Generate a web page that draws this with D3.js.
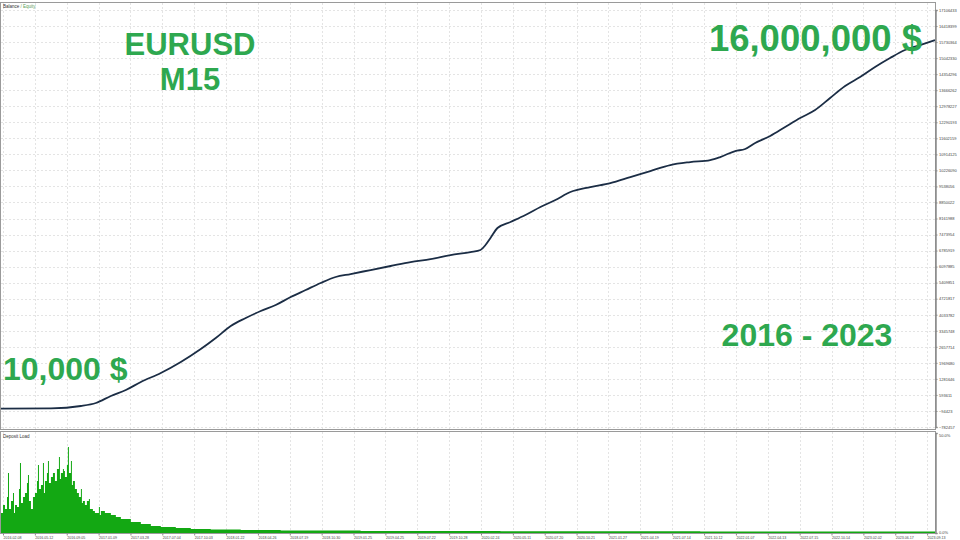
<!DOCTYPE html>
<html>
<head>
<meta charset="utf-8">
<script src="https://cdn.jsdelivr.net/npm/d3@7"></script>
<style>
  body { margin: 0; background: #fff; }
  svg { display: block; font-family: "Liberation Sans", Arial, sans-serif; }
</style>
</head>
<body>
<script>
// x axis is the deal counter of the tester, labelled with dates
var tickDeals = [20, 339, 658, 977, 1296, 1615, 1934, 2253, 2572, 2891, 3210, 3529, 3848, 4167, 4486,
                 4805, 5124, 5443, 5762, 6081, 6400, 6719, 7038, 7357, 7676, 7995, 8314, 8633, 8952, 9271];
var tickDates = ["2016.02.08", "2016.05.12", "2016.09.05", "2017.01.09", "2017.03.28", "2017.07.04",
                 "2017.10.03", "2018.01.22", "2018.04.26", "2018.07.19", "2018.10.30", "2019.01.25",
                 "2019.04.25", "2019.07.22", "2019.10.28", "2020.02.24", "2020.05.11", "2020.07.20",
                 "2020.10.21", "2021.01.27", "2021.04.19", "2021.07.14", "2021.10.12", "2022.01.07",
                 "2022.04.13", "2022.07.15", "2022.10.14", "2023.02.02", "2023.06.17", "2023.09.13"];

// right axis ticks
var balanceTicks = [17106433, 16418399, 15730364, 15042330, 14354296, 13666262, 12978227, 12290193,
                    11602159, 10914125, 10226090, 9538056, 8850022, 8161988, 7473954, 6785919, 6097885,
                    5409851, 4721817, 4033782, 3345748, 2657714, 1969680, 1281646, 593611, -94423, -782457];

// balance curve [deal, balance]
var balance = [
  [0, 10000], [500, 20000], [800, 118000], [950, 247000], [1100, 547000], [1250, 805000],
  [1400, 1148000], [1600, 1534000], [1800, 2006000], [2000, 2563000], [2150, 3035000],
  [2300, 3550000], [2450, 3893000], [2600, 4193000], [2750, 4451000], [2900, 4794000],
  [3050, 5094000], [3200, 5394000], [3350, 5652000], [3500, 5780000], [3700, 5952000],
  [3900, 6124000], [4100, 6295000], [4300, 6424000], [4500, 6595000], [4700, 6724000],
  [4800, 6810000], [4850, 7024000], [4900, 7325000], [4970, 7754000], [5100, 8011000],
  [5250, 8311000], [5400, 8654000], [5550, 8955000], [5700, 9298000], [5900, 9512000],
  [6100, 9684000], [6300, 9941000], [6500, 10199000], [6700, 10456000], [6900, 10585000],
  [7100, 10671000], [7200, 10799000], [7350, 11057000], [7450, 11142000], [7550, 11400000],
  [7700, 11700000], [7850, 12086000], [8000, 12472000], [8150, 12815000], [8300, 13330000],
  [8450, 13845000], [8600, 14231000], [8750, 14660000], [8900, 15046000], [9050, 15389000],
  [9200, 15603000], [9350, 15818000]
];

// deposit load [deal, percent]
var depositLoad = [
  [0, 10], [20, 14], [40, 12], [60, 18], [70, 30], [80, 12], [100, 16], [120, 20], [130, 10],
  [140, 14], [160, 13], [180, 22], [190, 35], [200, 15], [220, 18], [240, 20], [260, 25],
  [270, 29], [280, 16], [300, 12], [320, 18], [340, 20], [360, 26], [370, 34], [380, 22],
  [400, 24], [420, 35], [430, 20], [440, 26], [460, 30], [470, 36], [480, 25], [500, 28],
  [520, 30], [530, 30], [540, 26], [560, 32], [580, 38], [590, 27], [600, 30], [620, 32],
  [630, 31], [640, 28], [660, 34], [670, 43], [680, 30], [700, 36], [710, 24], [720, 26],
  [740, 22], [760, 20], [780, 18], [800, 22], [810, 15], [820, 16], [840, 14], [860, 16],
  [880, 17], [890, 12], [900, 12], [920, 11], [940, 10], [960, 10], [980, 13], [990, 9],
  [1000, 11], [1040, 10], [1100, 9], [1150, 8], [1200, 7], [1300, 5.5], [1400, 4.5],
  [1500, 3.5], [1600, 3], [1750, 2.5], [1900, 2], [2100, 1.8], [2400, 1.5], [2800, 1.2],
  [3200, 1.2], [3600, 1.0], [4000, 1.0], [5000, 0.9], [6000, 0.9], [7000, 0.8], [8000, 0.8],
  [9350, 0.7]
];
var loadTicks = [50, 0];

var width = 960, height = 540;
var left = 1, right = 935;

var svg = d3.select("body").append("svg")
    .attr("width", width)
    .attr("height", height);

var x = d3.scaleLinear().domain([0, 9350]).range([left, right]);
var y = d3.scaleLinear().domain([-782457, 17106433]).range([427, 10]);
var yLoad = d3.scaleLinear().domain([0, 50]).range([533, 433]);

// panel frames
svg.append("rect").attr("x", 0.5).attr("y", 2.5).attr("width", right).attr("height", 427)
    .attr("fill", "#fff").attr("stroke", "#9a9a9a");
svg.append("rect").attr("x", 0.5).attr("y", 431.5).attr("width", right).attr("height", 102)
    .attr("fill", "#fff").attr("stroke", "#9a9a9a");

// grid
svg.append("g").selectAll("line").data(balanceTicks).enter().append("line")
    .attr("x1", left).attr("x2", right)
    .attr("y1", function(d){ return Math.round(y(d)) + 0.5; })
    .attr("y2", function(d){ return Math.round(y(d)) + 0.5; })
    .attr("stroke", "#e4e4e4").attr("stroke-dasharray", "2,2");

var vgrid = svg.append("g");
tickDeals.forEach(function(d){
    var px = Math.round(x(d)) + 0.5;
    vgrid.append("line").attr("x1", px).attr("x2", px).attr("y1", 3).attr("y2", 429)
        .attr("stroke", "#e4e4e4").attr("stroke-dasharray", "2,2");
    vgrid.append("line").attr("x1", px).attr("x2", px).attr("y1", 432).attr("y2", 533)
        .attr("stroke", "#e4e4e4").attr("stroke-dasharray", "2,2");
});

// deposit load area
var area = d3.area()
    .x(function(d){ return x(d[0]); })
    .y0(yLoad(0))
    .y1(function(d){ return yLoad(d[1]); })
    .curve(d3.curveStepAfter);

svg.append("path").datum(depositLoad)
    .attr("d", area)
    .attr("fill", "#13a813");

// balance line
var line = d3.line()
    .x(function(d){ return x(d[0]); })
    .y(function(d){ return y(d[1]); })
    .curve(d3.curveMonotoneX);

svg.append("path").datum(balance)
    .attr("d", line)
    .attr("fill", "none")
    .attr("stroke", "#1b2d45")
    .attr("stroke-width", 1.8);

// right axes
var yAxis = d3.axisRight(y).tickValues(balanceTicks).tickSize(2).tickPadding(1.5)
    .tickFormat(d3.format("d"));
var ga = svg.append("g").attr("transform", "translate(" + (right + 0.5) + ",0)").call(yAxis);

var loadAxis = d3.axisRight(yLoad).tickValues(loadTicks).tickSize(2).tickPadding(1.5)
    .tickFormat(function(d){ return d.toFixed(1) + "%"; });
var gl = svg.append("g").attr("transform", "translate(" + (right + 0.5) + ",0)").call(loadAxis);

[ga, gl].forEach(function(g){
    g.select(".domain").attr("stroke", "#8a8a8a").attr("stroke-width", 1.5);
    g.selectAll(".tick line").attr("stroke", "#8a8a8a");
    g.selectAll(".tick text").attr("font-size", "4px").attr("fill", "#444")
        .attr("font-family", "Liberation Sans, Arial, sans-serif");
});
gl.selectAll(".tick text").attr("dy", function(d){ return d === 50 ? "0.8em" : "0.1em"; });

// bottom axis
var xAxis = d3.axisBottom(x).tickValues(tickDeals).tickSize(2).tickPadding(1)
    .tickFormat(function(d, i){ return tickDates[i]; });
var gx = svg.append("g").attr("transform", "translate(0,533.5)").call(xAxis);
gx.select(".domain").remove();
gx.selectAll(".tick line").attr("stroke", "#8a8a8a");
gx.selectAll(".tick text").attr("font-size", "3.6px").attr("fill", "#444")
    .attr("text-anchor", "start").attr("dx", "0")
    .attr("font-family", "Liberation Sans, Arial, sans-serif");

// panel captions
var cap = svg.append("text").attr("x", 3).attr("y", 8).attr("font-size", "4.5px");
cap.append("tspan").attr("fill", "#333").text("Balance");
cap.append("tspan").attr("fill", "#5aa05a").text(" / Equity");
svg.append("text").attr("x", 3).attr("y", 438).attr("font-size", "4.5px").attr("fill", "#333")
    .text("Deposit Load");

// big annotations
var green = "#2ea84f";
function big(txt, px, py, size, anchor){
    svg.append("text").attr("x", px).attr("y", py)
        .attr("font-size", size + "px").attr("font-weight", "bold")
        .attr("text-anchor", anchor).attr("fill", green).text(txt);
}
big("EURUSD", 190, 55, 31, "middle");
big("M15", 190, 90, 31, "middle");
big("16,000,000 $", 922, 51, 36.5, "end");
big("10,000 $", 3, 380, 32, "start");
big("2016 - 2023", 807, 346, 32, "middle");
</script>
</body>
</html>
